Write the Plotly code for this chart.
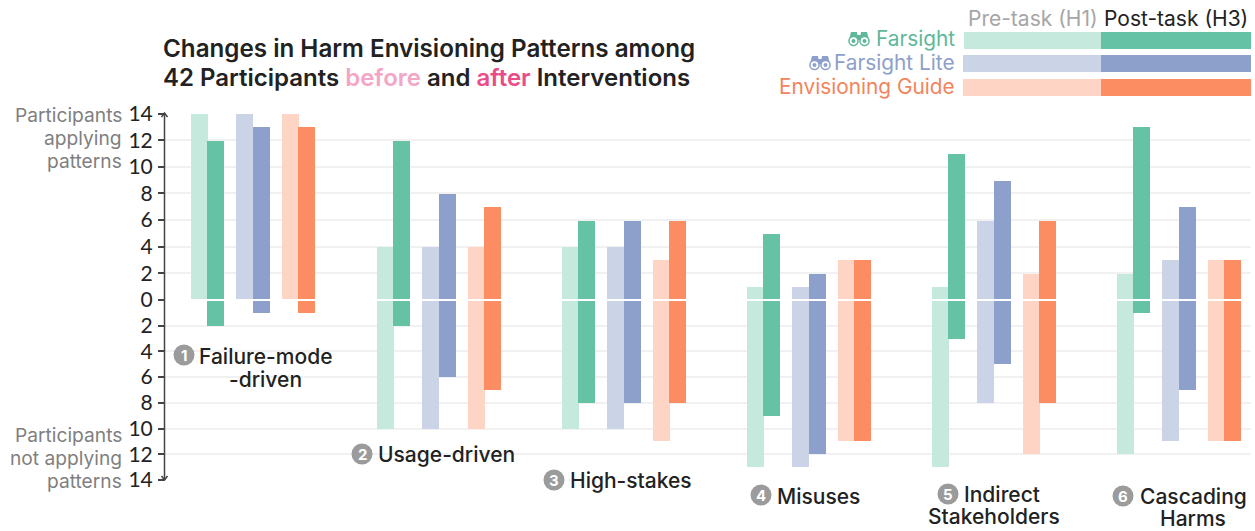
import plotly.graph_objects as go

groups = ["Failure-mode -driven", "Usage-driven", "High-stakes", "Misuses", "Indirect Stakeholders", "Cascading Harms"]
y_ticks_up = [0, 2, 4, 6, 8, 10, 12, 14]
y_ticks_low = [2, 4, 6, 8, 10, 12, 14]

farsight_pre_apply = [14, 4, 4, 1, 1, 2]
farsight_post_apply = [12, 12, 6, 5, 11, 13]
farsight_pre_not = [0, 10, 10, 13, 13, 12]
farsight_post_not = [2, 2, 8, 9, 3, 1]
lite_pre_apply = [14, 4, 4, 1, 6, 3]
lite_post_apply = [13, 8, 6, 2, 9, 7]
lite_pre_not = [0, 10, 10, 13, 8, 11]
lite_post_not = [1, 6, 8, 12, 5, 7]
guide_pre_apply = [14, 4, 3, 3, 2, 3]
guide_post_apply = [13, 7, 6, 3, 6, 3]
guide_pre_not = [0, 10, 11, 11, 12, 11]
guide_post_not = [1, 7, 8, 11, 8, 11]

W, H = 1255, 531
GREEN, GREEN_L = "#66c2a5", "#c6e9de"
BLUE, BLUE_L = "#8da0cb", "#cbd4e6"
ORANGE, ORANGE_L = "#fc8d62", "#fed4c5"
INK = "#222222"
GREY = "#808080"
FONT = "Inter"

px = lambda x: x / W
py = lambda y: 1 - y / H

UNIT = 185.2
C0 = 253.3
PLOT_L, PLOT_R = 165, 1251
TOP, ZERO, BOT = 113.6, 300, 480
BW = 17 / UNIT

fig = go.Figure()
series = [
    (GREEN_L, farsight_pre_apply, farsight_pre_not, -53.5),
    (GREEN, farsight_post_apply, farsight_post_not, -37.5),
    (BLUE_L, lite_pre_apply, lite_pre_not, -8.5),
    (BLUE, lite_post_apply, lite_post_not, 8.5),
    (ORANGE_L, guide_pre_apply, guide_pre_not, 37.5),
    (ORANGE, guide_post_apply, guide_post_not, 53.5),
]
for color, up, low, off in series:
    xs = [i + off / UNIT for i in range(len(groups))]
    fig.add_trace(go.Bar(x=xs, y=up, width=BW, marker=dict(color=color, line_width=0), yaxis="y", showlegend=False))
    fig.add_trace(go.Bar(x=xs, y=low, width=BW, marker=dict(color=color, line_width=0), yaxis="y2", showlegend=False))

shapes = []
ann = []

def text(s, x, y, size=21, color=INK, anchor="left", weight=500, family=FONT):
    ann.append(dict(text=s, x=px(x), y=py(y), xref="paper", yref="paper", showarrow=False,
                    xanchor=anchor, yanchor="middle", align=anchor, borderpad=0, borderwidth=0,
                    font=dict(size=size, color=color, family=family, weight=weight)))

def rect(x0, y0, x1, y1, color):
    shapes.append(dict(type="rect", xref="paper", yref="paper", x0=px(x0), x1=px(x1), y0=py(y0), y1=py(y1),
                       fillcolor=color, line_width=0, layer="above"))

def circle(cx, cy, r, color):
    shapes.append(dict(type="circle", xref="paper", yref="paper", x0=px(cx - r), x1=px(cx + r),
                       y0=py(cy - r), y1=py(cy + r), fillcolor=color, line_width=0, layer="above"))

def path(points, color=None, stroke=None, width=1.5):
    d = "M " + " L ".join(f"{px(a):.5f},{py(b):.5f}" for a, b in points)
    if color:
        d += " Z"
    shapes.append(dict(type="path", xref="paper", yref="paper", path=d, fillcolor=color or "rgba(0,0,0,0)",
                       line=dict(width=0 if color else width, color=stroke or "rgba(0,0,0,0)"), layer="above"))

def binoculars(x, y, color):
    path([(x + 1, y + 10), (x + 3, y + 2), (x + 9, y + 2), (x + 10, y + 10)], color)
    path([(x + 12, y + 10), (x + 13, y + 2), (x + 19, y + 2), (x + 21, y + 10)], color)
    rect(x + 9, y + 5, x + 13, y + 10, color)
    for cx in (x + 5.5, x + 16.5):
        circle(cx, y + 11, 5.3, color)
        circle(cx, y + 11, 3.8, "white")
        circle(cx, y + 11, 2, color)

# zero separator and arrowed axis
shapes.append(dict(type="line", xref="paper", yref="paper", x0=px(PLOT_L), x1=px(PLOT_R), y0=py(300), y1=py(300),
                   line=dict(color="white", width=2), layer="above"))
AX = 164.5
shapes.append(dict(type="line", xref="paper", yref="paper", x0=px(AX), x1=px(AX), y0=py(113), y1=py(480),
                   line=dict(color="#444444", width=1.5), layer="above"))
path([(AX - 3, 117), (AX, 113), (AX + 3, 117)], stroke="#444444")
path([(AX - 3, 476), (AX, 480), (AX + 3, 476)], stroke="#444444")

# title
text("Changes in Harm Envisioning Patterns among", 163, 48, size=24.2, weight=600)
text('42 Participants <span style="color:#f4a6c6">before</span> and '
     '<span style="color:#ea4c89">after</span> Interventions', 163, 78, size=24, weight=600)

# side captions
for s, y in [("Participants", 115), ("applying", 138), ("patterns", 161),
             ("Participants", 435), ("not applying", 458), ("patterns", 481)]:
    text(s, 122, y, size=19.2, color=GREY, anchor="right", weight=400)

# legend
text("Pre-task (H1)", 968, 18, size=21, color="#a6a6a6", weight=400)
text("Post-task (H3)", 1104, 18, size=21, color=INK, weight=400)
for label, y0, tc, light, dark, lx in [("Farsight", 32, "#5fb89a", GREEN_L, GREEN, 964),
                                       ("Farsight Lite", 55, BLUE, BLUE_L, BLUE, 963),
                                       ("Envisioning Guide", 79, "#f2845c", ORANGE_L, ORANGE, 963)]:
    text(label, 955, y0 + 7, size=20.8, color=tc, anchor="right", weight=400)
    rect(lx, y0, 1101, y0 + 17, light)
    rect(1101, y0, 1251, y0 + 17, dark)
binoculars(848, 30, "#5fb89a")
binoculars(809, 54, BLUE)

# group labels
labels = [
    ("1", 184, 355, [("Failure-mode", 199, 356, "left"), ("-driven", 302, 379, "right")]),
    ("2", 362, 454, [("Usage-driven", 378, 454, "left")]),
    ("3", 554, 480, [("High-stakes", 570, 480, "left")]),
    ("4", 761, 495, [("Misuses", 777, 496, "left")]),
    ("5", 948, 494, [("Indirect", 964, 494, "left"), ("Stakeholders", 1060, 516, "right")]),
    ("6", 1123, 496, [("Cascading", 1140, 496, "left"), ("Harms", 1226, 518, "right")]),
]
for n, cx, cy, parts in labels:
    circle(cx, cy, 10.5, "#9b9b9b")
    text(n, cx, cy, size=15, color="white", anchor="center", weight=700)
    for s, x, y, a in parts:
        text(s, x, y, size=21, color=INK, anchor=a, weight=500)

axis_common = dict(showline=False, ticks="outside", ticklen=6, tickwidth=1.5, tickcolor="#444444",
                   showgrid=True, gridcolor="#f1f1f1", gridwidth=2, zeroline=False, automargin=False,
                   tickfont=dict(family="Lato", size=21, color=INK), ticklabelstandoff=1)

fig.update_layout(
    width=W, height=H, autosize=False, margin=dict(l=0, r=0, t=0, b=0),
    paper_bgcolor="white", plot_bgcolor="white", barmode="overlay", bargap=0,
    xaxis=dict(domain=[px(PLOT_L), px(PLOT_R)],
               range=[(PLOT_L - C0) / UNIT, (PLOT_R - C0) / UNIT],
               visible=False, fixedrange=True, automargin=False),
    yaxis=dict(domain=[py(ZERO), py(TOP)], range=[0, 14], tickvals=y_ticks_up, ticktext=[str(v) for v in y_ticks_up], **axis_common),
    yaxis2=dict(domain=[py(BOT), py(ZERO)], range=[14, 0], tickvals=y_ticks_low, ticktext=[str(v) for v in y_ticks_low],
                anchor="x", **axis_common),
    shapes=shapes, annotations=ann, showlegend=False, font=dict(family=FONT),
)

fig.write_html("out.html", config=dict(displayModeBar=False),
               post_script="document.body.style.margin='0';document.body.style.overflow='hidden';")
